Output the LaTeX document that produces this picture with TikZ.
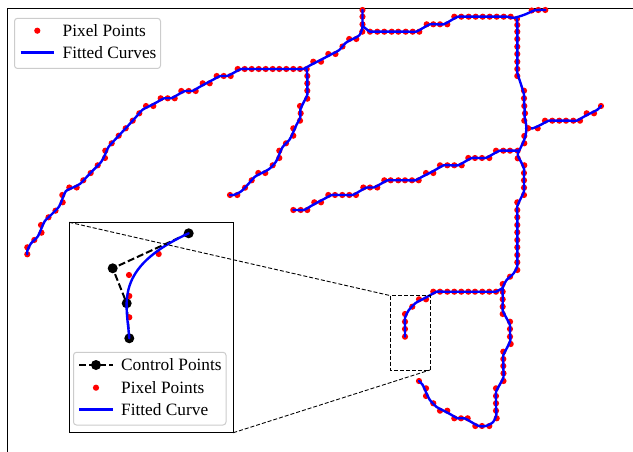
\documentclass[tikz,border=0pt]{standalone}
\usepackage{fontspec}
\setmainfont{Liberation Serif}
\usepackage{tikz}
\usetikzlibrary{calc}
\definecolor{pixred}{HTML}{FF0000}
\definecolor{fitblue}{HTML}{0000FF}
\definecolor{legframe}{HTML}{CCCCCC}
\tikzset{
  axis/.style={draw=black, line width=1pt},
  pix/.style={fill=pixred},
  fitc/.style={draw=fitblue, line width=2.4pt, line cap=round, line join=round},
  ctrl/.style={draw=black, line width=2pt, dash pattern=on 7pt off 3pt},
  cdot/.style={circle, fill=black, inner sep=0pt, minimum size=10pt},
  zoomline/.style={draw=black, line width=0.9pt, dash pattern=on 4pt off 2pt},
  legbox/.style={draw=legframe, fill=white, fill opacity=0.8, rounded corners=3pt, line width=1pt},
  lab/.style={anchor=west, inner sep=0pt, font=\fontsize{17.3}{20}\selectfont},
}
% red pixel points of one skeleton branch, then a smooth curve through their midpoints
\newcommand\pixseg[3]{%
  \foreach \x/\y in {#2}{\fill[pix] (\x,\y) circle[radius=3.1pt];}%
  \gdef\pts{}\gdef\lastpt{}%
  \foreach \x/\y [count=\i] in {#2}{%
    \ifnum\i=1 \xdef\pts{(\x,\y)}\else
      \xdef\pts{\pts($(\x,\y)!0.5!\lastpt$)}\fi
    \xdef\lastpt{(\x,\y)}}%
  \edef\segcmd{\noexpand\draw[fitc] plot[smooth] coordinates {#1\pts\lastpt#3};}%
  \segcmd}

\begin{document}
\begin{tikzpicture}[x=1pt,y=-1pt]
  \useasboundingbox (0,0) rectangle (633,452);
  \coordinate (ax) at (7,9);
  \draw[axis] (7,452) -- (ax) -- (633,9);

  % junctions
  \coordinate (jA) at (306.7,69);
  \coordinate (jB) at (362.5,26);
  \coordinate (jC) at (517,19);
  \coordinate (jE) at (517.7,150.7);
  \coordinate (jF) at (502.7,288);

  \pixseg{}{27.3/254.3, 27.3/247.3, 34.3/240, 41.5/232.7, 41/225, 48.5/217.3, 55.5/210.7,
    62.7/202.3, 62.3/195, 69.3/187.5, 76.7/187.5, 83.3/180.3, 90.7/173, 97.7/165.3,
    105/158, 105.3/150.7, 111.7/143.3, 118.7/135.7, 125.7/128.3, 132.7/120.7,
    139.3/113.3, 146/106, 153.3/106, 160.7/98.3, 167.7/98.3, 174.7/98.3, 181.3/91,
    188.7/91, 195.7/91, 202.7/83.3, 209.7/83.3, 216.7/76, 223.7/76, 230.7/76,
    237.7/69, 244.7/69, 251.7/69, 258.7/69, 265.7/69, 272.7/69, 279.3/69, 286.3/69,
    293.3/69, 300/69, 306.7/69, 313.3/61.7, 321/61.7, 328.3/54, 335.5/54, 342.5/46.5,
    349.2/39, 356.3/39, 362.3/31.7, 362.5/24.3, 362.5/16.7, 362.5/10}{}
  \pixseg{(jA)}{307.3/76, 307.3/83.3, 307.3/90.7, 307.3/98.7, 300/106, 300.7/113.3,
    300/120.7, 293.3/128.3, 293.3/135.7, 286/143.3, 279.3/150.7, 279.3/158,
    272.7/165.3, 265.3/173, 258.3/173, 251.7/180.3, 245/187.7, 237.3/195, 230/195}{}
  \pixseg{(jB)}{370/31.7, 377.3/31.7, 384.3/31.7, 391.7/31.7, 398.3/31.7, 405.7/31.7,
    412.7/31.7, 419.3/31.7, 426.7/24.3, 433.3/24.3, 440/24.3, 447.3/24.3, 454.3/16.7,
    461.3/16.7, 468.7/16.7, 475.7/16.7, 482.7/16.7, 489.7/16.7, 496.7/16.7,
    503.7/16.7, 510.7/16.7, 517/19, 531.7/10.5, 538.3/10, 545.3/10}{}
  \pixseg{}{528/128.3, 537.7/128.3, 545/120.7, 552.3/120.7, 559.3/120.7, 566/120.7,
    573.3/120.7, 580/120.7, 586.7/113.3, 594/113.3, 601/106}{}
  \pixseg{(jC)}{517.3/25, 517.3/31.7, 517.3/39, 517.3/46.7, 517.3/54, 517.3/61.7,
    517.3/69, 517.3/76, 524/90.7, 524/98.3, 524.3/106, 525/113.3, 524.3/120.7,
    528/128.3, 524.3/136, 524.3/143.3, 517.7/150.7, 517.7/158.3, 524.3/165.3,
    524/173, 524/180.3, 524/187.7, 524/195, 517.3/202.3, 517.3/210, 517.3/217.3,
    517.3/225, 517.3/232.3, 517.3/240, 517.3/247.3, 517.3/255, 517.3/262.3,
    517.3/270, 510/276.7, 502.7/284, 502.7/291.7, 502.7/299.3, 502.7/306.7,
    502.7/314, 510/321.7, 510/329, 510/336.7, 510.7/344, 503.3/351.7, 503.3/359,
    503.3/366, 503.5/373.3, 503.5/381, 496/388.3, 496/396, 496/403.3, 496/410.7,
    496.7/418.3, 489.3/426, 482/426, 475.3/426, 467.7/418.3, 461/418.3, 454.3/418.3,
    447.3/410.7, 440/410.7, 433.3/403.3, 426/396, 426/388.3, 419/381}{}
  \pixseg{(jE)}{510/150.7, 503.3/150.7, 496/150.7, 489.3/158, 482/158, 475/158,
    468.3/158, 461.7/165.3, 454.3/165.3, 447.3/165.3, 440/165.3, 433.3/173, 426/173,
    418.7/180.3, 412/180.3, 405/180.3, 398.3/180.3, 390.7/180.3, 384.3/180.3,
    377.3/187.5, 370/187.5, 363.3/187.5, 356/195, 349.3/195, 342.3/195, 335/195,
    328.3/195, 321/202.3, 314.3/202.3, 307.3/210, 300.7/210, 293.3/210}{}
  \pixseg{(jF)}{496/291.7, 489.3/291.7, 482.3/291.7, 475/291.7, 468.3/291.7,
    461.3/291.7, 454.3/291.7, 447.3/291.7, 440/291.7, 433.3/291.7, 426/299.3,
    419/299.3, 412.3/306.7, 405/314, 405/321.7, 405/329, 405/336.7}{}

  % legend
  \draw[legbox] (14.5,18.3) rectangle (160.5,68.5);
  \fill[pix] (37.3,30.7) circle[radius=3.1pt];
  \node[lab] (lgpix) at (62.5,30.7) {Pixel Points};
  \draw[fitc, line cap=butt] (20.7,52.7) -- (54.3,52.7);
  \node[lab] (lgfit) at (62.5,52.7) {Fitted Curves};

  % zoomed region
  \coordinate (zr1) at (390.7,295.7);
  \coordinate (zr2) at (430,370);
  \draw[zoomline] (zr1) rectangle (zr2);

  % inset
  \coordinate (in1) at (69.3,222.3);
  \coordinate (in2) at (233.3,432.7);
  \draw[axis, fill=white] (in1) rectangle (in2);
  \coordinate (c1) at (129.3,338.3);
  \coordinate (c2) at (126.7,303.3);
  \coordinate (c3) at (112.7,268.3);
  \coordinate (c4) at (188.7,233.3);
  \draw[ctrl] (c4) -- (c3) -- (c2) -- (c1);
  \foreach \c in {c1,c2,c3,c4} \node[cdot] at (\c) {};
  \foreach \p in {(158.7,254),(129,275),(129.3,296),(129.3,317.3)}
    \fill[pix] \p circle[radius=3.1pt];
  \draw[fitc] (c1) .. controls (c2) and (c3) .. (c4);

  \draw[legbox] (73.5,352.3) rectangle (226,425);
  \draw[ctrl] (79,365) -- (113,365);
  \node[cdot] at (96,365) {};
  \node[lab] (lgctrl) at (121,365) {Control Points};
  \fill[pix] (96,387.7) circle[radius=3.1pt];
  \node[lab] (lgpix2) at (121,387.7) {Pixel Points};
  \draw[fitc, line cap=butt] (79,409.5) -- (113,409.5);
  \node[lab] (lgfit2) at (121,409.5) {Fitted Curve};

  \draw[zoomline] (in1) -- (zr1);
  \draw[zoomline] (in2) -- (zr2);
\end{tikzpicture}
\end{document}
